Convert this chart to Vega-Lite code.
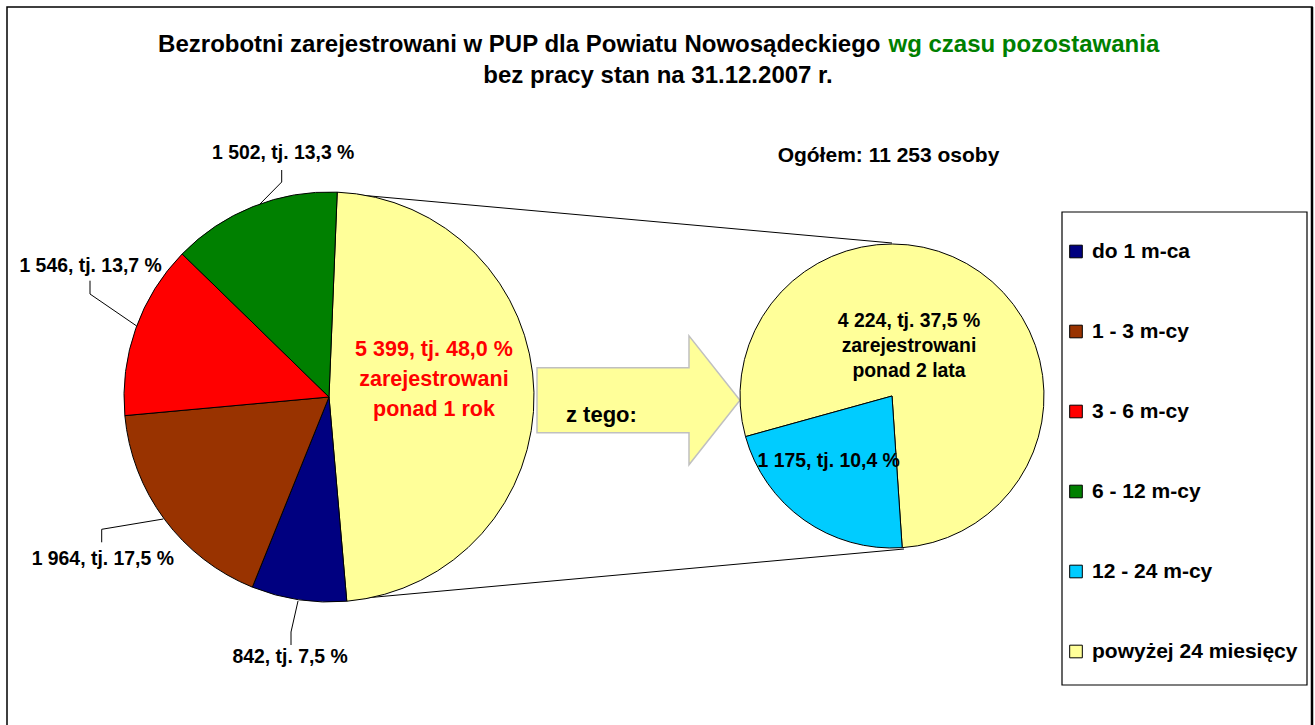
{
  "$schema": "https://vega.github.io/schema/vega-lite/v6.json",
  "width": 1315,
  "height": 725,
  "autosize": {"type": "none"},
  "padding": 0,
  "background": "white",
  "config": {
    "view": {"stroke": null},
    "text": {"font": "Arial, Liberation Sans, sans-serif", "fontWeight": "bold", "color": "black"}
  },
  "data": {
    "values": [
      {"pie": "L", "kat": "powyżej 12 m-cy", "value": 5399, "ord": 1, "label": "5 399, tj. 48,0 %\nzarejestrowani\nponad 1 rok"},
      {"pie": "L", "kat": "do 1 m-ca", "value": 842, "ord": 2, "label": "842, tj. 7,5 %"},
      {"pie": "L", "kat": "1 - 3 m-cy", "value": 1964, "ord": 3, "label": "1 964, tj. 17,5 %"},
      {"pie": "L", "kat": "3 - 6 m-cy", "value": 1546, "ord": 4, "label": "1 546, tj. 13,7 %"},
      {"pie": "L", "kat": "6 - 12 m-cy", "value": 1502, "ord": 5, "label": "1 502, tj. 13,3 %"},
      {"pie": "R", "kat": "powyżej 24 miesięcy", "value": 4224, "ord": 1, "label": "4 224, tj. 37,5 %\nzarejestrowani\nponad 2 lata"},
      {"pie": "R", "kat": "12 - 24 m-cy", "value": 1175, "ord": 2, "label": "1 175, tj. 10,4 %"}
    ]
  },
  "layer": [
    {"data": {"values": [{}]}, "mark": {"type": "rect", "x": 7, "x2": 1312, "y": 7, "y2": 760, "fill": "white", "stroke": "black", "strokeWidth": 1.5}, "encoding": {}},
    {"data": {"values": [{}]}, "mark": {"type": "point", "shape": "M1312,7L1312,760", "x": 0, "y": 0, "size": 4, "filled": false, "stroke": "black", "strokeWidth": 2.5, "opacity": 1}, "encoding": {}},
    {"data": {"values": [{}]}, "mark": {"type": "point", "shape": "M337,193L892,243M343,600L904,549M259,205L281.7,182L281.7,170M136.7,326L90,294L90,280.7M163.3,519L101.7,529.3L101.7,542.3M298,601L291,632L291,645", "x": 0, "y": 0, "size": 4, "filled": false, "stroke": "black", "strokeWidth": 1, "opacity": 1}, "encoding": {}},
    {"data": {"values": [{}]}, "mark": {"type": "point", "shape": "M-1,-0.32L0.4975,-0.32L0.4975,-0.635L1,0L0.4975,0.635L0.4975,0.32L-1,0.32Z", "x": 638.5, "y": 400.3, "size": 41209, "filled": true, "fill": "#FFFF99", "fillOpacity": 1, "stroke": "#C0C0C0", "strokeWidth": 1.5, "opacity": 1}, "encoding": {}},
    {"data": {"values": [{}]}, "mark": {"type": "text", "text": "z tego:", "x": 566, "y": 422, "align": "left", "baseline": "alphabetic", "fontSize": 22}, "encoding": {}},
    {
      "transform": [{"filter": "datum.pie === 'L'"}],
      "encoding": {
        "theta": {"field": "value", "type": "quantitative", "stack": true, "scale": {"range": [0.0401, 6.3233]}},
        "order": {"field": "ord", "type": "quantitative", "sort": "ascending"}
      },
      "layer": [
        {
          "mark": {"type": "arc", "x": 329, "y": 397, "radius": 205, "stroke": "black", "strokeWidth": 1},
          "encoding": {
            "color": {
              "field": "kat", "type": "nominal",
              "scale": {
                "domain": ["do 1 m-ca", "1 - 3 m-cy", "3 - 6 m-cy", "6 - 12 m-cy", "12 - 24 m-cy", "powyżej 24 miesięcy", "powyżej 12 m-cy"],
                "range": ["#000080", "#993300", "#FF0000", "#008000", "#00CCFF", "#FFFF99", "#FFFF99"]
              },
              "legend": {
                "title": null, "orient": "none", "legendX": 1065.5, "legendY": 241,
                "values": ["do 1 m-ca", "1 - 3 m-cy", "3 - 6 m-cy", "6 - 12 m-cy", "12 - 24 m-cy", "powyżej 24 miesięcy"],
                "symbolType": "square", "symbolSize": 160, "symbolStrokeColor": "black", "symbolStrokeWidth": 1, "symbolOpacity": 1,
                "labelFont": "Arial, Liberation Sans, sans-serif", "labelFontWeight": "bold", "labelFontSize": 21, "labelColor": "black",
                "labelLimit": 400, "rowPadding": 58, "labelOffset": 5.5, "padding": 0
              }
            }
          }
        },
        {
          "mark": {"type": "text", "x": 329, "y": 397, "radius": 105, "dx": 0, "dy": -38.8, "fontSize": 21.5, "lineHeight": 30, "lineBreak": "\n", "align": "center", "baseline": "alphabetic", "color": "#FF0000"},
          "encoding": {"text": {"condition": {"test": "datum.ord === 1", "field": "label"}, "value": ""}}
        },
        {
          "mark": {"type": "text", "x": 329, "y": 397, "radius": 250, "dx": -2, "dy": 18.7, "fontSize": 19.4, "align": "center", "baseline": "alphabetic"},
          "encoding": {"text": {"condition": {"test": "datum.ord === 2", "field": "label"}, "value": ""}}
        },
        {
          "mark": {"type": "text", "x": 329, "y": 397, "radius": 250, "dx": -25.6, "dy": 19, "fontSize": 19.4, "align": "center", "baseline": "alphabetic"},
          "encoding": {"text": {"condition": {"test": "datum.ord === 3", "field": "label"}, "value": ""}}
        },
        {
          "mark": {"type": "text", "x": 329, "y": 397, "radius": 250, "dx": -2.8, "dy": -41.8, "fontSize": 19.4, "align": "center", "baseline": "alphabetic"},
          "encoding": {"text": {"condition": {"test": "datum.ord === 4", "field": "label"}, "value": ""}}
        },
        {
          "mark": {"type": "text", "x": 329, "y": 397, "radius": 250, "dx": 46.7, "dy": -5.4, "fontSize": 19.4, "align": "center", "baseline": "alphabetic"},
          "encoding": {"text": {"condition": {"test": "datum.ord === 5", "field": "label"}, "value": ""}}
        }
      ]
    },
    {
      "transform": [{"filter": "datum.pie === 'R'"}],
      "encoding": {
        "theta": {"field": "value", "type": "quantitative", "stack": true, "scale": {"range": [-1.8413, 4.4419]}},
        "order": {"field": "ord", "type": "quantitative", "sort": "ascending"}
      },
      "layer": [
        {
          "mark": {"type": "arc", "x": 892, "y": 396, "radius": 152, "stroke": "black", "strokeWidth": 1},
          "encoding": {
            "color": {
              "field": "kat", "type": "nominal",
              "scale": {
                "domain": ["do 1 m-ca", "1 - 3 m-cy", "3 - 6 m-cy", "6 - 12 m-cy", "12 - 24 m-cy", "powyżej 24 miesięcy", "powyżej 12 m-cy"],
                "range": ["#000080", "#993300", "#FF0000", "#008000", "#00CCFF", "#FFFF99", "#FFFF99"]
              },
              "legend": {
                "title": null, "orient": "none", "legendX": 1065.5, "legendY": 241,
                "values": ["do 1 m-ca", "1 - 3 m-cy", "3 - 6 m-cy", "6 - 12 m-cy", "12 - 24 m-cy", "powyżej 24 miesięcy"],
                "symbolType": "square", "symbolSize": 160, "symbolStrokeColor": "black", "symbolStrokeWidth": 1, "symbolOpacity": 1,
                "labelFont": "Arial, Liberation Sans, sans-serif", "labelFontWeight": "bold", "labelFontSize": 21, "labelColor": "black",
                "labelLimit": 400, "rowPadding": 58, "labelOffset": 5.5, "padding": 0
              }
            }
          }
        },
        {
          "mark": {"type": "text", "x": 892, "y": 396, "radius": 60, "dx": -17.7, "dy": -20.5, "fontSize": 19.4, "lineHeight": 25, "lineBreak": "\n", "align": "center", "baseline": "alphabetic"},
          "encoding": {"text": {"condition": {"test": "datum.ord === 1", "field": "label"}, "value": ""}}
        },
        {
          "mark": {"type": "text", "x": 892, "y": 396, "radius": 90, "dx": -11.3, "dy": -2.1, "fontSize": 19.4, "align": "center", "baseline": "alphabetic"},
          "encoding": {"text": {"condition": {"test": "datum.ord === 2", "field": "label"}, "value": ""}}
        }
      ]
    },
    {"data": {"values": [{}]}, "mark": {"type": "rect", "x": 1062, "x2": 1307, "y": 212, "y2": 685, "fill": "white", "stroke": "black", "strokeWidth": 1.2}, "encoding": {}},
    {"data": {"values": [{}]}, "mark": {"type": "text", "text": "Bezrobotni zarejestrowani w PUP dla Powiatu Nowosądeckiego", "x": 880.5, "y": 51.7, "align": "right", "baseline": "alphabetic", "fontSize": 24}, "encoding": {}},
    {"data": {"values": [{}]}, "mark": {"type": "text", "text": "wg czasu pozostawania", "x": 888.5, "y": 51.7, "align": "left", "baseline": "alphabetic", "fontSize": 24, "color": "#008000"}, "encoding": {}},
    {"data": {"values": [{}]}, "mark": {"type": "text", "text": "bez pracy stan na 31.12.2007 r.", "x": 658, "y": 83.3, "align": "center", "baseline": "alphabetic", "fontSize": 24}, "encoding": {}},
    {"data": {"values": [{}]}, "mark": {"type": "text", "text": "Ogółem: 11 253 osoby", "x": 888.5, "y": 162, "align": "center", "baseline": "alphabetic", "fontSize": 21}, "encoding": {}}
  ],
  "resolve": {"scale": {"theta": "independent"}}
}
